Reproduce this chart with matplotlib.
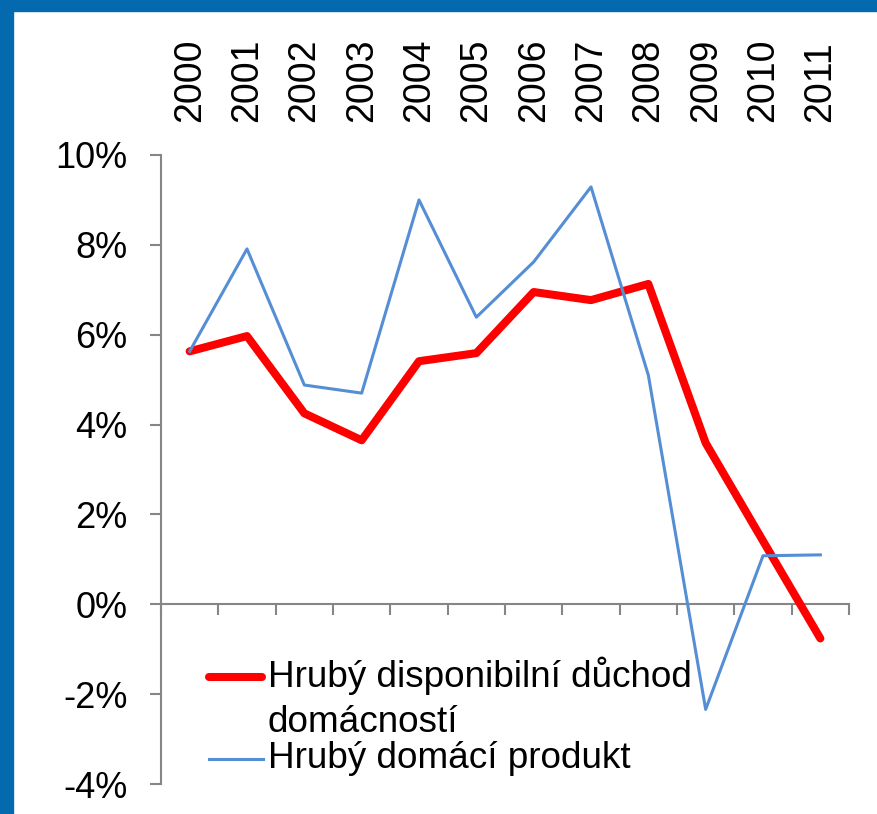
import matplotlib
matplotlib.use("Agg")
from matplotlib import pyplot as plt
from matplotlib.patches import Rectangle
from matplotlib.lines import Line2D
from matplotlib.ticker import FixedLocator

plt.rcParams['font.family'] = ['Liberation Sans', 'DejaVu Sans']

## data (growth, %)
years = ['2000', '2001', '2002', '2003', '2004', '2005',
         '2006', '2007', '2008', '2009', '2010', '2011']
disp_income = [5.63, 5.97, 4.25, 3.65, 5.41, 5.59, 6.95, 6.77, 7.13, 3.59, 1.41, -0.76]
gdp = [5.63, 7.91, 4.88, 4.70, 9.00, 6.39, 7.62, 9.29, 5.10, -2.34, 1.08, 1.10]
label_income = ['Hrubý disponibilní důchod', 'domácností']
label_gdp = 'Hrubý domácí produkt'
y_ticks = [-4, -2, 0, 2, 4, 6, 8, 10]

W, H = 878, 814
red = '#FF0000'
blue = '#558ED5'
gray = '#868686'
border = '#0469AF'

fig = plt.figure(figsize=(W / 100, H / 100), dpi=100)
fig.patch.set_facecolor('white')

# pixel (from top-left) -> figure fraction
def fx(px):
    return px / W
def fy(py):
    return 1 - py / H

## blue frame on top and left edge
fig.patches.append(Rectangle((0, fy(11)), 1, 11 / H, transform=fig.transFigure,
                             color=border, zorder=0))
fig.patches.append(Rectangle((0, 0), fx(13), 1, transform=fig.transFigure,
                             color=border, zorder=0))

ax = fig.add_axes([fx(161), fy(784), (849 - 161) / W, (784 - 155) / H])
x = list(range(len(years)))

ax.plot(x, disp_income, color=red, lw=5.8, solid_capstyle='round',
        solid_joinstyle='round', zorder=3)
ax.plot(x, gdp, color=blue, lw=2.2, solid_joinstyle='round', zorder=4)

ax.set_xlim(-0.5, len(years) - 0.5)
ax.set_ylim(-4, 10)

for s in ['top', 'right']:
    ax.spines[s].set_visible(False)
ax.spines['left'].set_color(gray)
ax.spines['left'].set_linewidth(1.5)
ax.spines['bottom'].set_color(gray)
ax.spines['bottom'].set_linewidth(1.5)
ax.spines['bottom'].set_position(('data', 0))

## years on top, tick marks at category borders on the zero line
ax.set_xticks(x)
ax.set_xticklabels(years, rotation=90, fontsize=27)
ax.tick_params(axis='x', which='major', length=0, top=True, bottom=False,
               labeltop=True, labelbottom=False, pad=24)
ax.xaxis.set_minor_locator(FixedLocator([i - 0.5 for i in range(len(years) + 1)]))
ax.tick_params(axis='x', which='minor', length=8, width=1.5, color=gray,
               direction='out', bottom=True, top=False)

ax.set_yticks(y_ticks)
ax.set_yticklabels(['%d%%' % v for v in y_ticks], fontsize=26)
ax.tick_params(axis='y', length=8, width=1.5, color=gray, pad=16)

## legend drawn by hand, Excel style (handle next to the first line)
fig.add_artist(Line2D([fx(209), fx(262)], [fy(677), fy(677)], transform=fig.transFigure,
                      color=red, lw=5.8, solid_capstyle='round'))
fig.add_artist(Line2D([fx(209), fx(263)], [fy(759), fy(759)], transform=fig.transFigure,
                      color=blue, lw=2.2))
fig.text(fx(268), fy(687), label_income[0], fontsize=26.6, va='baseline', ha='left')
fig.text(fx(268), fy(732), label_income[1], fontsize=26.6, va='baseline', ha='left')
fig.text(fx(268), fy(768), label_gdp, fontsize=26.6, va='baseline', ha='left')

fig.savefig('out.png', dpi=100)
